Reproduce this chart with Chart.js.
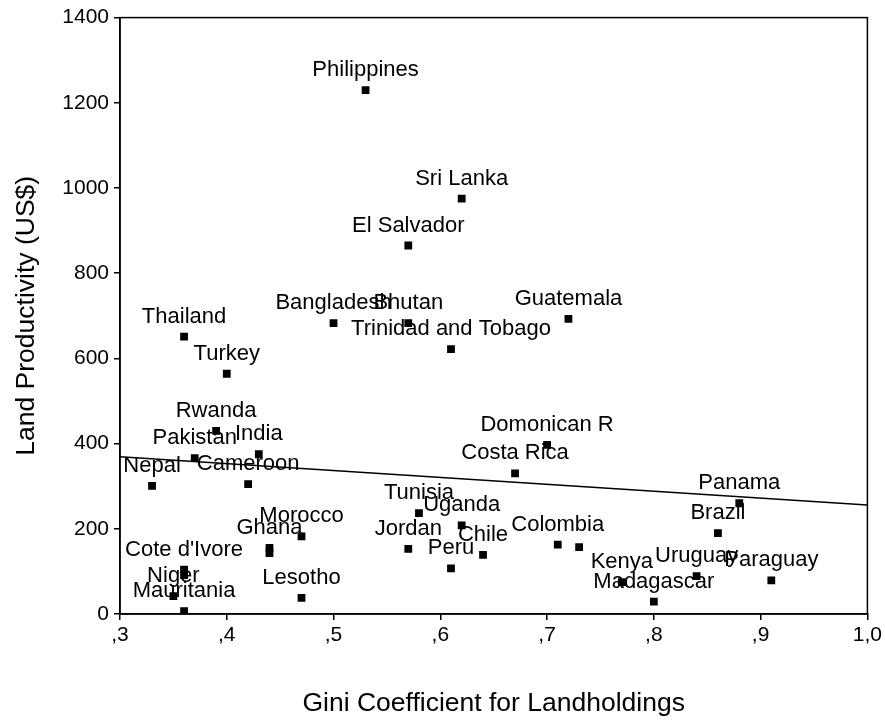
<!DOCTYPE html>
<html>
<head>
<meta charset="utf-8">
<script src="https://cdn.jsdelivr.net/npm/chart.js@4/dist/chart.umd.min.js"></script>
<style>
  html,body{margin:0;padding:0;background:#fff;}
  #wrap{width:885px;height:720px;position:relative;}
</style>
</head>
<body>
<div id="wrap"><canvas id="c" width="885" height="720"></canvas></div>
<script>
// country labels, empty string = point with no label drawn
const countries=['Philippines','Sri Lanka','El Salvador','Bangladesh','Bhutan','Guatemala','Trinidad and Tobago',
  'Thailand','Turkey','Rwanda','Pakistan','India','Nepal','Cameroon','Domonican R','Costa Rica','Panama','Brazil',
  'Tunisia','Uganda','Jordan','Chile','Peru','Colombia','','Morocco','Ghana','',"Cote d'Ivore",'','Niger',
  'Mauritania','Lesotho','Kenya','Uruguay','Paraguay','Madagascar'];
const gini=[0.53,0.62,0.57,0.50,0.57,0.72,0.61,
  0.36,0.40,0.39,0.37,0.43,0.33,0.42,0.70,0.67,0.88,0.86,
  0.58,0.62,0.57,0.64,0.61,0.71,0.73,0.47,0.44,0.44,0.36,0.36,0.35,
  0.36,0.47,0.77,0.84,0.91,0.80];
const productivity=[1230,975,865,683,683,693,622,
  651,564,430,366,375,301,305,397,330,260,190,
  237,208,153,139,107,163,157,182,155,143,104,91,42,
  7,38,75,89,79,29];
// fit line end points
const fitX=[0.3,1.0];
const fitY=[369,256];

const xTicks=[0.3,0.4,0.5,0.6,0.7,0.8,0.9,1.0];

const fontFam="'Liberation Sans', Arial, sans-serif";

const pointLabels={
  id:'pointLabels',
  afterDatasetsDraw(chart){
    const ctx=chart.ctx;
    const xs=chart.scales.x, ys=chart.scales.y;
    ctx.save();
    ctx.font='22px '+fontFam;
    ctx.fillStyle='#000';
    ctx.textAlign='center';
    ctx.textBaseline='alphabetic';
    countries.forEach((name,i)=>{
      if(!name) return;
      const px=xs.getPixelForValue(gini[i]);
      const py=ys.getPixelForValue(productivity[i]);
      ctx.fillText(name,px,py-14);
    });
    ctx.restore();
  }
};

const frame={
  id:'frame',
  beforeDatasetsDraw(chart){
    const a=chart.chartArea, ctx=chart.ctx;
    ctx.save();
    ctx.strokeStyle='#000';
    ctx.lineWidth=1.5;
    ctx.strokeRect(a.left,a.top,a.right-a.left,a.bottom-a.top);
    ctx.restore();
  }
};

new Chart(document.getElementById('c'),{
  type:'scatter',
  data:{
    datasets:[{
      data:gini.map((g,i)=>({x:g,y:productivity[i]})),
      pointStyle:'rect',
      pointRadius:5.5,
      pointHoverRadius:5.5,
      backgroundColor:'#000',
      borderColor:'#000',
      borderWidth:0
    },{
      type:'line',
      data:fitX.map((v,i)=>({x:v,y:fitY[i]})),
      borderColor:'#000',
      borderWidth:1.5,
      pointRadius:0,
      fill:false
    }]
  },
  options:{
    responsive:false,
    animation:false,
    devicePixelRatio:1,
    layout:{padding:{left:0,right:17,top:15,bottom:0}},
    plugins:{legend:{display:false},tooltip:{enabled:false}},
    scales:{
      x:{
        type:'linear',min:0.3,max:1.0,
        afterBuildTicks(s){ s.ticks=xTicks.map(v=>({value:v})); },
        afterFit(s){ s.height=106; },
        grid:{display:true,drawOnChartArea:false,drawTicks:true,tickLength:6,color:'#000',lineWidth:1.5},
        border:{display:true,color:'#000',width:1.5},
        ticks:{
          color:'#000',padding:3,font:{family:fontFam,size:21},maxRotation:0,autoSkip:false,
          callback:v=>{ const s=v.toFixed(1).replace('.',','); return s.startsWith('0')?s.slice(1):s; }
        },
        title:{display:true,text:'Gini Coefficient for Landholdings',color:'#000',
          font:{family:fontFam,size:26.5},padding:{top:0,bottom:0}}
      },
      y:{
        type:'linear',min:0,max:1400,
        afterFit(s){ s.width=120; },
        grid:{display:true,drawOnChartArea:false,drawTicks:true,tickLength:6,color:'#000',lineWidth:1.5},
        border:{display:true,color:'#000',width:1.5},
        ticks:{stepSize:200,color:'#000',padding:5,font:{family:fontFam,size:21},callback:v=>String(v)},
        title:{display:true,text:'Land Productivity (US$)',color:'#000',
          font:{family:fontFam,size:26.5},padding:{top:11,bottom:0}}
      }
    }
  },
  plugins:[frame,pointLabels]
});
</script>
</body>
</html>
